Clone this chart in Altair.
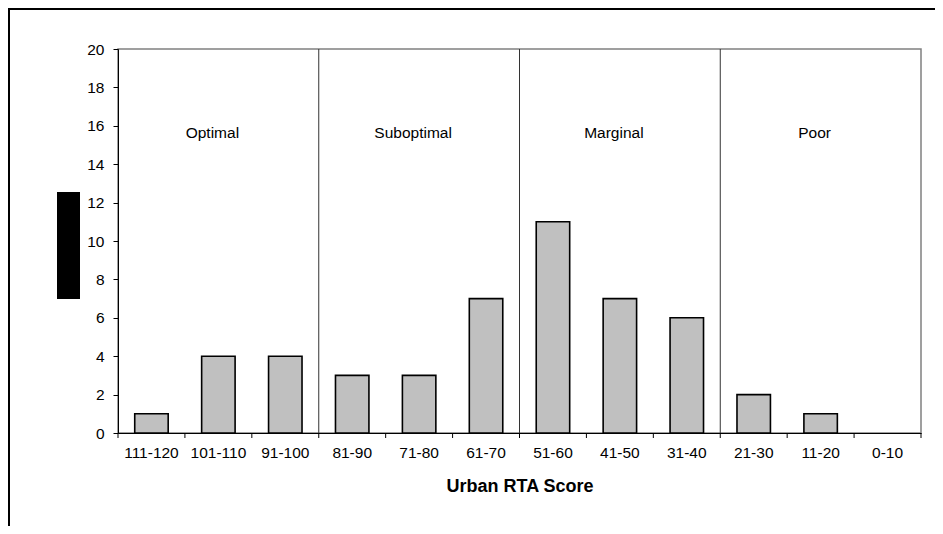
import altair as alt
import pandas as pd

categories = ["111-120", "101-110", "91-100", "81-90", "71-80", "61-70",
              "51-60", "41-50", "31-40", "21-30", "11-20", "0-10"]
counts = [1, 4, 4, 3, 3, 7, 11, 7, 6, 2, 1, 0]
groups = ["Optimal", "Suboptimal", "Marginal", "Poor"]
group_centers = ["101-110", "71-80", "41-50", "11-20"]
separators = ["81-90", "51-60", "21-30"]
label_level = [16, 16, 16, 16]
y_ticks = list(range(0, 21, 2))

FONT = "Liberation Sans"
W, H = 803, 384

bars_df = pd.DataFrame({"cat": categories, "count": counts})
groups_df = pd.DataFrame({"cat": group_centers, "name": groups, "level": label_level})
sep_df = pd.DataFrame({"cat": separators})
tick_df = pd.DataFrame({"cat": categories})
one = pd.DataFrame({"a": [0]})

xscale = alt.Scale(domain=categories, paddingInner=0, paddingOuter=0)
yscale = alt.Scale(domain=[0, 20])

x_axis = alt.Axis(labelAngle=0, ticks=False, labelPadding=12, labelFontSize=15.5,
                  labelColor="black", domainColor="black", titleFontSize=18,
                  titleFontWeight="bold", titleColor="black", titlePadding=17,
                  labelFont=FONT, titleFont=FONT, grid=False, labelOverlap=False)
y_axis = alt.Axis(values=y_ticks, tickSize=5, labelPadding=9, labelFontSize=15.5,
                  labelColor="black", tickColor="black", domainColor="black",
                  labelFont=FONT, grid=False, labelOverlap=False)

bars = alt.Chart(bars_df).transform_filter("datum.count > 0").mark_bar(
    width=alt.RelativeBandSize(0.5), color="#C0C0C0", stroke="black", strokeWidth=1.6
).encode(
    x=alt.X("cat:N", scale=xscale, sort=categories, title="Urban RTA Score", axis=x_axis),
    y=alt.Y("count:Q", scale=yscale, title=None, axis=y_axis),
)

seps = alt.Chart(sep_df).mark_rule(color="#333333", strokeWidth=1).encode(
    x=alt.X("cat:N", scale=xscale, sort=categories, bandPosition=0,
            title="Urban RTA Score", axis=x_axis),
)

xticks = alt.Chart(tick_df).mark_rule(color="black", strokeWidth=1).encode(
    x=alt.X("cat:N", scale=xscale, sort=categories, bandPosition=0,
            title="Urban RTA Score", axis=x_axis),
    y=alt.value(H), y2=alt.value(H + 5),
)

texts = alt.Chart(groups_df).mark_text(font=FONT, fontSize=15.5, color="black",
                                        dx=-6, dy=7).encode(
    x=alt.X("cat:N", scale=xscale, sort=categories, title="Urban RTA Score", axis=x_axis),
    y=alt.Y("level:Q", scale=yscale, title=None, axis=y_axis),
    text="name:N",
)

end_tick = alt.Chart(one).mark_rule(color="black").encode(
    x=alt.value(W), y=alt.value(H), y2=alt.value(H + 5)
)

black_box = alt.Chart(one).mark_rect(color="black").encode(
    x=alt.value(-61), x2=alt.value(-38), y=alt.value(143), y2=alt.value(250)
)

frame_top = alt.Chart(one).mark_rule(color="black", strokeWidth=2).encode(
    x=alt.value(-110), x2=alt.value(830), y=alt.value(-40)
)
frame_left = alt.Chart(one).mark_rule(color="black", strokeWidth=2).encode(
    x=alt.value(-109), y=alt.value(-41), y2=alt.value(490)
)

chart = alt.layer(seps, xticks, bars, texts, end_tick, black_box, frame_top,
                  frame_left).properties(
    width=W, height=H,
    autosize=alt.AutoSizeParams(type="none"),
    padding={"left": 110, "top": 41, "right": 14, "bottom": 93},
    background="white",
).configure_view(stroke="#808080", strokeWidth=1.5)

chart.save("out.html", embed_options={"renderer": "svg", "actions": False})
